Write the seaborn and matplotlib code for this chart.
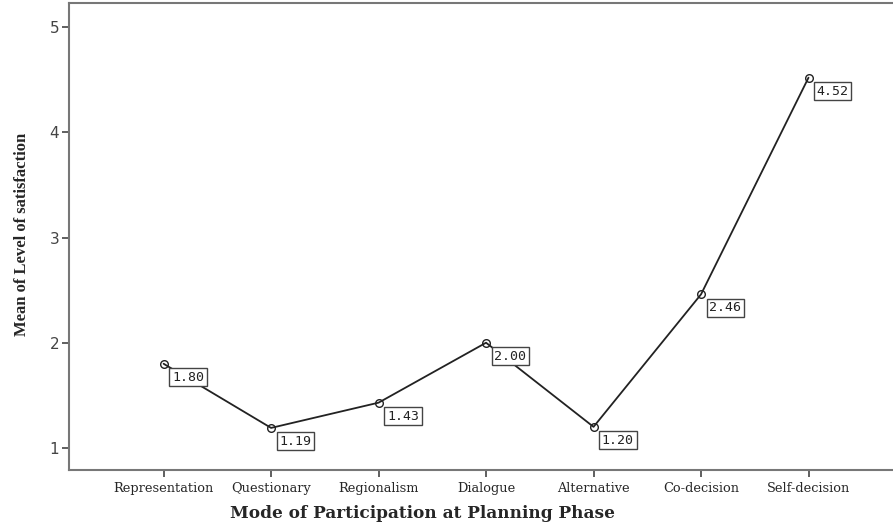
import matplotlib
matplotlib.use("Agg")
import matplotlib.pyplot as plt
import pandas as pd
import seaborn as sns

modes = ["Representation", "Questionary", "Regionalism", "Dialogue",
         "Alternative", "Co-decision", "Self-decision"]
satisfaction = [1.80, 1.19, 1.43, 2.00, 1.20, 2.46, 4.52]

df = pd.DataFrame({"mode": modes, "mean": satisfaction})

sns.set_style("white")
plt.rcParams["font.family"] = ["DejaVu Serif", "Liberation Serif"]

fig = plt.figure(figsize=(8.93, 5.25), dpi=100)
ax = fig.add_axes([0.0773, 0.1048, 0.934, 0.8895])

sns.lineplot(data=df, x="mode", y="mean", sort=False, color="#222222",
             linewidth=1.3, marker="o", markersize=5.5, markerfacecolor="none",
             markeredgecolor="#222222", markeredgewidth=1.0, ax=ax)

for i, v in enumerate(satisfaction):
    ax.annotate(f"{v:.2f}", (i, v), xytext=(6, -5), textcoords="offset points",
                ha="left", va="top", fontsize=9.5, family="DejaVu Sans Mono",
                color="#222222",
                bbox=dict(boxstyle="square,pad=0.2", fc="white",
                          ec="#444444", lw=1.0))

ax.set_xlim(-0.88, 6.88)
ax.set_ylim(0.79, 5.23)
ax.set_yticks([1, 2, 3, 4, 5])
ax.set_yticklabels(["1", "2", "3", "4", "5"], family="DejaVu Sans",
                   fontsize=11, color="#444444")
ax.tick_params(axis="x", labelsize=9.3, length=5, width=1.2, color="#444444",
               bottom=True, pad=4)
ax.tick_params(axis="y", length=5, width=1.2, color="#444444", left=True, pad=2)

for s in ax.spines.values():
    s.set_color("#777777")
    s.set_linewidth(1.5)

ax.set_xlabel("Mode of Participation at Planning Phase", fontsize=12.2,
              fontweight="bold")
ax.xaxis.set_label_coords(0.424, -0.075)
ax.set_ylabel("Mean of Level of satisfaction", fontsize=12,
              fontweight="bold", family="Liberation Serif")
ax.yaxis.set_label_coords(-0.047, 0.505)

fig.savefig("out.png", dpi=100)
